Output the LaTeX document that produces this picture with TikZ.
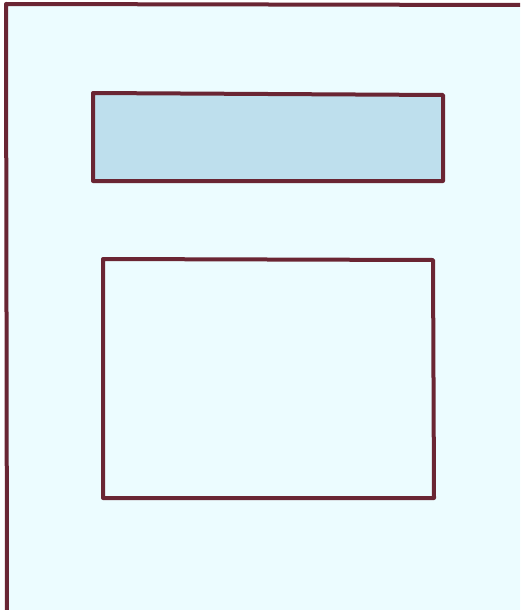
\documentclass[tikz,border=0pt]{standalone}
\usepackage{tikz}

\definecolor{frameline}{HTML}{6A2533}
\definecolor{pagefill}{HTML}{ECFCFF}
\definecolor{barfill}{HTML}{BEDFED}

\begin{document}
\begin{tikzpicture}[x=1pt, y=-1pt, line width=4pt, line join=round]
        \useasboundingbox (0,0) rectangle (520,610);
        \clip (0,0) rectangle (520,610);

        % Page
        \draw[frameline, fill=pagefill] (6,4) -- (530,5) -- (530,620) -- (7,620) -- cycle;

        % Header bar
        \draw[frameline, fill=barfill] (93,93) -- (443,95) -- (443,181) -- (93,181) -- cycle;

        % Content box
        \draw[frameline] (103,259) -- (433,260) -- (434,498) -- (103,498) -- cycle;
    \end{tikzpicture}
\end{document}
